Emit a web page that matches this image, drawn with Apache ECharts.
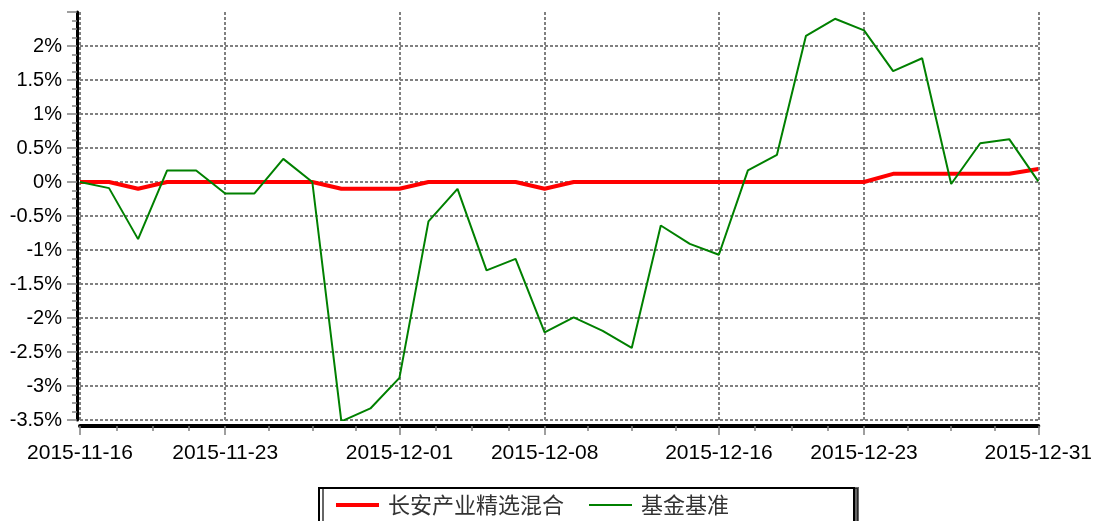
<!DOCTYPE html>
<html>
<head>
<meta charset="utf-8">
<title>长安产业精选混合</title>
<script src="https://cdn.jsdelivr.net/npm/echarts@6/dist/echarts.min.js"></script>
<style>
  html, body { margin: 0; padding: 0; background: #fff; }
  #chart { width: 1095px; height: 521px; }
</style>
</head>
<body>
<div id="chart"></div>
<script>
// 交易日
const dates = [
  '2015-11-16', '2015-11-17', '2015-11-18', '2015-11-19', '2015-11-20',
  '2015-11-23', '2015-11-24', '2015-11-25', '2015-11-26', '2015-11-27',
  '2015-11-30', '2015-12-01', '2015-12-02', '2015-12-03', '2015-12-04',
  '2015-12-07', '2015-12-08', '2015-12-09', '2015-12-10', '2015-12-11',
  '2015-12-14', '2015-12-15', '2015-12-16', '2015-12-17', '2015-12-18',
  '2015-12-21', '2015-12-22', '2015-12-23', '2015-12-24', '2015-12-25',
  '2015-12-28', '2015-12-29', '2015-12-30', '2015-12-31'
];

// 长安产业精选混合 (%)
const fundReturn = [
  0, 0, -0.1, 0, 0, 0, 0, 0, 0, -0.1,
  -0.1, -0.1, 0, 0, 0, 0, -0.1, 0, 0, 0,
  0, 0, 0, 0, 0, 0, 0, 0, 0.12, 0.12,
  0.12, 0.12, 0.12, 0.19
];

// 基金基准 (%)
const benchmark = [
  0, -0.09, -0.84, 0.17, 0.17, -0.17, -0.17, 0.34, 0, -3.52,
  -3.33, -2.88, -0.58, -0.1, -1.3, -1.13, -2.21, -1.99, -2.19, -2.44,
  -0.64, -0.91, -1.07, 0.17, 0.4, 2.15, 2.4, 2.23, 1.63, 1.82,
  -0.03, 0.57, 0.63, 0.01
];

// x 轴上显示日期的位置
const labelIndex = [0, 5, 11, 16, 22, 27, 33];

// 两个日期标签之间分成 4 段的小刻度
const minorTicks = [];
for (let i = 0; i < labelIndex.length - 1; i++) {
  const a = labelIndex[i], b = labelIndex[i + 1];
  for (let k = 1; k < 4; k++) {
    minorTicks.push(a + (b - a) * k / 4);
  }
}

const gridLine = {
  show: true,
  lineStyle: { color: '#808080', type: [3, 2], width: 2 }
};

const chart = echarts.init(document.getElementById('chart'));

const option = {
  animation: false,
  backgroundColor: '#fff',
  grid: {
    left: 80,
    right: 54,
    top: 12,
    bottom: 101,
    containLabel: false
  },
  legend: {
    left: 329,
    top: 489,
    itemWidth: 43,
    itemHeight: 20,
    itemGap: 24,
    itemStyle: { opacity: 0 },
    textStyle: {
      fontFamily: 'Noto Sans CJK SC',
      fontSize: 22,
      color: '#333',
      padding: [0, 0, 0, 4]
    },
    data: [
      { name: '长安产业精选混合', lineStyle: { width: 4 } },
      { name: '基金基准', lineStyle: { width: 2 } }
    ]
  },
  graphic: [{
    type: 'rect',
    left: 318,
    top: 487,
    z: -1,
    shape: { width: 535, height: 40 },
    style: {
      fill: '#fff',
      stroke: '#000',
      lineWidth: 2,
      shadowColor: 'rgba(0,0,0,0.6)',
      shadowOffsetX: 4,
      shadowOffsetY: 0,
      shadowBlur: 0
    }
  }],
  xAxis: [{
    type: 'category',
    data: dates,
    boundaryGap: false,
    offset: 6,
    axisLine: { onZero: false, lineStyle: { color: '#000', width: 4 } },
    axisTick: {
      interval: (idx) => labelIndex.includes(idx),
      length: 9,
      lineStyle: { color: '#808080', width: 1.5 }
    },
    axisLabel: {
      interval: (idx) => labelIndex.includes(idx),
      margin: 17,
      fontFamily: 'Liberation Sans',
      fontSize: 21,
      color: '#000'
    },
    splitLine: Object.assign({ interval: (idx) => labelIndex.includes(idx) }, gridLine)
  }, {
    type: 'value',
    min: 0,
    max: dates.length - 1,
    position: 'bottom',
    offset: 6,
    axisLine: { show: false, onZero: false },
    axisLabel: { show: false },
    splitLine: { show: false },
    axisTick: {
      show: true,
      customValues: minorTicks,
      length: 5,
      lineStyle: { color: '#808080', width: 1.5 }
    }
  }],
  yAxis: {
    type: 'value',
    min: -3.5,
    max: 2.5,
    interval: 0.5,
    offset: 3,
    axisLine: { show: true, onZero: false, lineStyle: { color: '#000', width: 3 } },
    axisTick: { show: true, length: 10, lineStyle: { color: '#808080', width: 1.5 } },
    minorTick: { show: true, splitNumber: 4, length: 5, lineStyle: { color: '#808080', width: 1.5 } },
    axisLabel: {
      showMaxLabel: false,
      margin: 15,
      fontFamily: 'Liberation Sans',
      fontSize: 20,
      color: '#000',
      formatter: (v) => v + '%'
    },
    splitLine: Object.assign({ showMaxLine: false }, gridLine)
  },
  series: [{
    name: '长安产业精选混合',
    type: 'line',
    data: fundReturn,
    symbol: 'none',
    lineStyle: { color: '#ff0000', width: 4 },
    itemStyle: { color: '#ff0000' }
  }, {
    name: '基金基准',
    type: 'line',
    data: benchmark,
    symbol: 'none',
    lineStyle: { color: '#008000', width: 2 },
    itemStyle: { color: '#008000' }
  }]
};

chart.setOption(option);
</script>
</body>
</html>
